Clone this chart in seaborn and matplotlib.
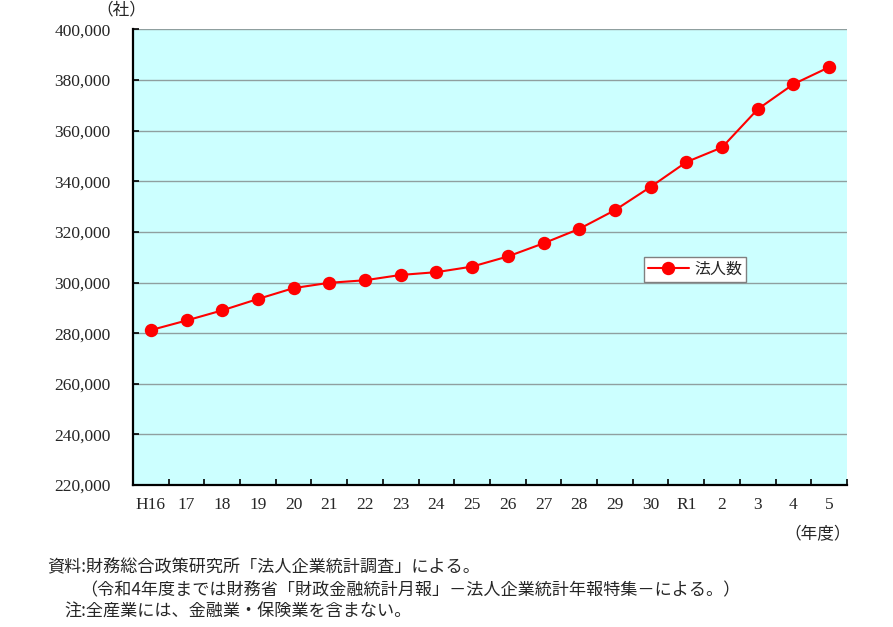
import matplotlib

matplotlib.use('Agg')
import matplotlib.pyplot as plt
import numpy as np
import pandas as pd
import seaborn as sns
from matplotlib.ticker import FixedLocator, FuncFormatter

# 年度と法人数
years = ['H16', '17', '18', '19', '20', '21', '22', '23', '24', '25',
         '26', '27', '28', '29', '30', 'R1', '2', '3', '4', '5']
counts = [281200, 285000, 289000, 293500, 297800, 299900, 300900, 303000,
          304100, 306300, 310300, 315500, 321200, 328600, 337800, 347600,
          353400, 368500, 378400, 385100]
y_ticks = list(range(220000, 400001, 20000))

notes = ['資料:財務総合政策研究所「法人企業統計調査」による。',
         '（令和4年度までは財務省「財政金融統計月報」－法人企業統計年報特集－による。）',
         '注:全産業には、金融業・保険業を含まない。']

df = pd.DataFrame({'年度': years, '法人数': counts})

sns.set_style('white')
plt.rcParams['font.family'] = ['Liberation Serif', 'Noto Sans CJK JP', 'DejaVu Sans']
jp = ['Noto Sans CJK JP', 'DejaVu Sans']

fig = plt.figure(figsize=(8.93, 6.27), dpi=100)
ax = fig.add_axes([0.1489, 0.2265, 0.7996, 0.7265])
ax.set_facecolor('#ccffff')

sns.pointplot(data=df, x='年度', y='法人数', color='#ff0000', markers='o',
              linestyles='-', markersize=8.5, linewidth=1.5, label='法人数',
              ax=ax, zorder=3)

ax.set_xlim(-0.5, len(years) - 0.5)
ax.set_ylim(y_ticks[0], y_ticks[-1])
ax.set_yticks(y_ticks)
ax.yaxis.set_major_formatter(FuncFormatter(lambda v, p: f'{int(v):,}'))
ax.grid(axis='y', color='#8f9f9f', linewidth=1.0, zorder=1)
ax.set_axisbelow(True)

ax.xaxis.set_minor_locator(FixedLocator(np.arange(-0.5, len(years), 1.0)))
ax.tick_params(axis='x', which='major', length=0, pad=9, labelsize=12.5)
ax.tick_params(axis='x', which='minor', direction='in', length=4, width=1.2,
               color='black', bottom=True)
ax.tick_params(axis='y', direction='in', length=4, width=1.2, color='black',
               left=True, pad=16, labelsize=12.5)

for s in ['top', 'right']:
    ax.spines[s].set_visible(False)
for s in ['left', 'bottom']:
    ax.spines[s].set_color('black')
    ax.spines[s].set_linewidth(1.6)
ax.set_xlabel('')
ax.set_ylabel('')

leg = ax.legend(loc='lower left', bbox_to_anchor=(0.704, 0.428), frameon=True,
                fancybox=False, edgecolor='#808080', framealpha=1,
                borderpad=0.25, handlelength=2.6, handletextpad=0.3,
                prop={'family': jp, 'size': 11.5})
leg.get_frame().set_linewidth(1.0)

fig.text(121 / 893, 1 - 10 / 627, '（社）', family=jp, fontsize=12,
         ha='center', va='center')
fig.text(818 / 893, 1 - 535 / 627, '（年度）', family=jp, fontsize=12,
         ha='center', va='center')
fig.text(47 / 893, 1 - 567 / 627, notes[0], family=jp, fontsize=12.3, va='center')
fig.text(80 / 893, 1 - 590 / 627, notes[1], family=jp, fontsize=12.3, va='center')
fig.text(64 / 893, 1 - 612 / 627, notes[2], family=jp, fontsize=12.3, va='center')

fig.savefig('out.png', dpi=100)
